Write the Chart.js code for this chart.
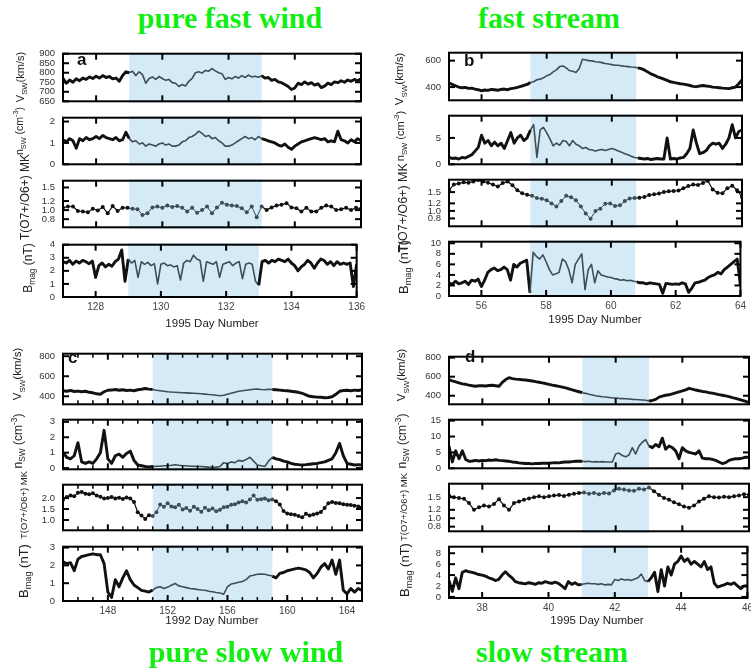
<!DOCTYPE html>
<html>
<head>
<meta charset="utf-8">
<script src="https://cdn.jsdelivr.net/npm/chart.js@4.4.1/dist/chart.umd.min.js"></script>
<style>
  body { margin: 0; background: #fff; width: 751px; height: 670px; position: relative; overflow: hidden; font-family: "Liberation Sans", Arial, sans-serif; }
  canvas { position: absolute; }
  .ttl { position: absolute; font: bold 30px "Liberation Serif", "Times New Roman", serif; color: #11ee11; white-space: nowrap; transform: translate(-50%, -50%); }
  .yl { position: absolute; color: #222; white-space: nowrap; line-height: 1; transform: translate(-50%, -50%) rotate(-90deg); }
  .yl sub, .yl sup { font-size: 70%; line-height: 0; }
  .xl { position: absolute; font-size: 11.5px; color: #222; white-space: nowrap; transform: translate(-50%, -50%); }
  .let { position: absolute; font: bold 17px "Liberation Sans", Arial, sans-serif; line-height: 1; color: #111; }
</style>
</head>
<body>
<script>
// ---- panel a : 1995 days 127-136, pure fast wind
const aStart = 127;
const aStep = 0.1;
const aStepT = 0.15;
const aShade = [129, 133];
const aXTicks = [128, 130, 132, 134, 136];
const aVTicks = [650, 700, 750, 800, 850, 900];
const aNTicks = [0, 1, 2];
const aTTicks = [0.8, 1.0, 1.2, 1.5];
const aBTicks = [0, 1, 2, 3, 4];
const aVsw = [770,745,762,750,768,758,772,765,778,770, 782,772,785,775,780,768,772,755,785,805,
  800,808,785,805,790,745,770,778,765,780, 770,760,765,748,745,728,738,730,755,770,
  800,805,798,812,808,822,810,800,795,765, 775,768,780,772,785,775,788,778,782,776,
  785,772,775,760,765,752,748,738,728,712, 720,745,738,752,740,748,735,742,722,730,
  745,738,752,748,758,750,762,755,765,758, 768];
const aNsw = [1.15,1.05,1.2,1.1,0.75,1.2,1.1,1.25,1.15,1.2, 1.3,1.2,1.35,1.25,1.2,1.15,1.25,1.1,1.15,1.5,
  1.2,1.05,1.1,0.95,1.0,0.85,0.95,0.9,0.85,0.95, 1.0,0.9,0.95,0.85,0.85,0.9,1.05,1.1,1.25,1.3,
  1.4,1.55,1.45,1.3,1.35,1.2,1.25,1.1,1.0,0.85, 0.85,0.9,1.0,1.1,1.2,1.3,1.2,1.25,1.15,1.3,
  1.2,1.15,1.1,1.05,1.0,0.9,0.85,0.95,0.8,0.7, 0.85,0.95,1.05,1.1,1.15,1.2,1.25,1.2,1.15,1.2,
  1.05,1.1,1.05,1.55,1.15,1.1,1.0,1.15,1.05,1.2, 1.1];
const aTox = [1.05,1.08,1.08,0.98,0.97,0.95,1.03,0.99,1.07,0.93, 1.09,0.98,1.05,1.05,1.03,1.02,0.89,0.93,1.06,1.08,
  1.05,1.10,1.07,1.09,1.05,0.97,1.05,0.94,1.00,1.08, 0.93,1.06,1.16,1.12,1.10,1.09,1.04,0.95,1.08,0.84,
  1.08,1.00,1.06,1.10,1.12,1.15,1.06,1.04,0.97,1.05, 0.97,0.97,1.05,1.10,1.08,1.00,1.02,1.05,1.00,1.05, 1.03];
const aBmag = [2.7,2.6,2.8,2.5,2.75,2.6,2.8,2.7,2.55,2.75, 1.5,2.4,2.6,2.3,2.5,2.35,2.7,2.9,3.6,1.2,
  2.9,2.6,2.8,1.5,2.7,2.5,2.65,2.4,2.55,1.0, 2.5,2.6,2.4,2.45,2.3,2.4,1.3,2.6,2.8,2.7,
  3.2,2.9,2.8,1.2,2.7,2.6,2.5,2.7,1.5,2.5, 2.6,2.7,2.4,2.6,2.7,1.4,2.5,2.6,2.5,1.2,
  0.9,2.7,2.8,2.6,2.8,2.7,2.9,2.8,2.7,2.9, 2.6,2.4,2.0,2.3,2.5,2.8,2.6,2.2,2.6,2.9,
  2.8,2.5,2.7,2.4,2.7,2.5,2.6,2.5,2.6,0.8, 2.5];

// ---- panel b : 1995 days 55-64, fast stream
const bStart = 55;
const bStep = 0.1;
const bStepT = 0.15;
const bShade = [57.5, 60.75];
const bXTicks = [56, 58, 60, 62, 64];
const bVTicks = [400, 600];
const bNTicks = [0, 5];
const bTTicks = [0.8, 1.0, 1.2, 1.5];
const bBTicks = [0, 2, 4, 6, 8, 10];
const bVsw = [430,420,410,400,395,398,390,392,385,380, 372,378,375,382,380,376,382,385,380,388,
  392,398,405,412,420,435,440,455,460,470, 485,495,515,530,555,560,545,525,520,510,
  540,610,605,600,598,592,590,585,578,575, 570,565,565,560,558,555,552,550,545,540,
  530,515,500,490,478,470,460,450,440,435, 430,425,422,418,412,405,403,408,412,408,
  405,400,398,395,392,390,388,395,400,425, 455];
const bNsw = [1.3,1.1,1.2,1.0,1.3,1.2,1.5,1.8,2.5,3.2, 5.5,4.0,4.5,3.5,4.2,3.5,4.0,3.0,4.5,6.0,
  4.0,5.0,5.5,4.5,5.0,6.5,7.5,1.3,6.5,7.0, 6.0,4.8,3.5,4.0,3.6,4.5,4.3,3.5,4.5,3.8,
  3.5,3.0,3.2,2.8,2.7,2.5,2.7,2.8,2.6,2.8, 3.0,2.8,2.5,2.3,2.0,1.8,1.5,1.3,1.2,1.1,
  1.0,1.1,0.9,1.0,1.1,1.0,1.0,5.0,1.0,1.1, 1.0,1.2,1.3,2.0,3.0,6.5,4.0,2.0,2.2,2.6,
  3.5,4.0,3.8,4.0,3.0,3.8,5.0,7.5,5.0,6.2, 6.5];
const bTox = [1.55,1.70,1.73,1.76,1.75,1.78,1.82,1.78,1.75,1.70, 1.65,1.74,1.78,1.68,1.55,1.47,1.43,1.40,1.34,1.32,
  1.28,1.20,1.12,1.26,1.40,1.36,1.28,1.12,0.93,0.79, 1.00,1.06,1.19,1.20,1.13,1.15,1.26,1.33,1.34,1.35,
  1.37,1.42,1.44,1.46,1.50,1.52,1.53,1.54,1.60,1.66, 1.70,1.69,1.74,1.80,1.57,1.48,1.47,1.60,1.67,1.55, 1.37];
const bBmag = [2.5,2.2,2.8,2.3,2.5,2.8,2.2,3.0,2.8,3.2, 1.8,3.0,4.5,5.0,5.3,4.8,5.0,5.5,5.0,3.0,
  6.0,5.5,6.2,6.5,6.8,0.6,8.3,7.5,7.0,7.8, 6.5,5.0,4.0,4.2,4.5,7.0,6.5,5.0,2.5,6.0,
  7.0,8.0,1.2,5.0,6.0,2.5,4.8,4.0,3.8,3.6, 3.5,3.3,3.2,3.0,3.1,2.9,3.0,2.8,2.7,2.5,
  2.5,2.3,2.5,2.4,2.3,2.2,0.5,2.4,2.3,2.2, 2.3,2.2,2.5,2.3,0.7,1.5,2.5,2.6,2.8,3.0,
  3.5,3.8,4.0,4.5,4.2,5.0,5.5,6.0,6.5,7.0, 2.0];

// ---- panel c : 1992 days 145-165, pure slow wind
const cStart = 145;
const cStep = 0.25;
const cShade = [151, 159];
const cXTicks = [148, 152, 156, 160, 164];
const cXMinor = [145,146,147,149,150,151,153,154,155,157,158,159,161,162,163,165];
const cVTicks = [400, 600, 800];
const cNTicks = [0, 1, 2, 3];
const cTTicks = [1.0, 1.5, 2.0];
const cBTicks = [0, 1, 2, 3];
const cVsw = [455,450,458,448,452,445,450,440,435,425, 420,445,460,462,468,460,465,458,462,455,
  465,470,478,472,468,460,455,450,445,442, 440,438,436,434,432,430,428,425,422,418,
  415,410,405,410,420,430,440,450,455,460, 465,470,472,468,465,470,468,465,462,458,
  455,450,445,440,430,415,400,395,392,390, 385,388,395,420,450,458,460,455,462,458, 465];
const cNsw = [1.0,0.7,0.6,0.8,1.65,0.4,0.3,0.4,0.3,0.6, 1.0,2.45,0.6,0.3,0.8,0.9,0.7,0.95,1.1,0.5,
  0.2,0.15,0.1,0.08,0.1,0.12,0.12,0.15,0.15,0.18, 0.22,0.18,0.15,0.15,0.12,0.12,0.1,0.1,0.08,0.06,
  0.05,0.06,0.1,0.35,0.3,0.4,0.35,0.5,0.45,0.55, 0.7,0.45,0.2,0.15,0.1,0.45,0.7,0.6,0.55,0.45,
  0.4,0.3,0.25,0.22,0.2,0.22,0.25,0.28,0.3,0.35, 0.4,0.5,0.6,1.0,1.6,0.8,0.3,0.25,0.2,0.22, 0.2];
const cTox = [1.92,2.05,2.12,2.08,2.24,2.28,2.20,2.18,2.22,2.12, 2.06,1.98,2.00,2.05,1.98,2.02,1.96,2.03,1.98,1.82,
  1.35,1.20,1.05,1.22,1.18,1.35,1.71,1.60,1.76,1.62, 1.58,1.70,1.48,1.55,1.42,1.60,1.50,1.38,1.56,1.45,
  1.52,1.40,1.47,1.58,1.60,1.70,1.72,1.80,1.85,1.80, 1.94,2.12,1.92,1.95,1.98,1.90,1.94,1.85,1.71,1.41,
  1.30,1.26,1.24,1.18,1.12,1.28,1.20,1.25,1.30,1.36, 1.55,1.76,1.82,1.78,1.76,1.72,1.70,1.68,1.65,1.62, 1.58];
const cBmag = [2.2,2.1,2.15,1.7,2.35,2.5,2.55,2.6,2.65,2.6, 2.6,2.1,0.5,0.2,1.2,0.8,1.3,1.7,1.2,0.9,
  0.75,0.6,0.55,0.5,0.62,0.75,0.8,0.7,0.78,0.88, 0.98,0.85,0.8,0.75,0.7,0.68,0.65,0.62,0.6,0.55,
  0.52,0.48,0.45,0.38,0.8,0.95,1.0,1.05,1.1,1.2, 1.4,1.45,1.5,1.52,1.5,1.45,1.4,1.3,1.55,1.6,
  1.7,1.75,1.8,1.85,1.8,1.75,1.6,1.3,1.55,1.9, 2.1,1.8,2.3,1.5,2.3,0.6,0.4,0.7,0.5,0.7, 0.6];

// ---- panel d : 1995 days 37-46, slow stream
const dStart = 37;
const dStep = 0.1;
const dStepT = 0.15;
const dShade = [41, 43];
const dXTicks = [38, 40, 42, 44, 46];
const dVTicks = [400, 600, 800];
const dNTicks = [0, 5, 10, 15];
const dTTicks = [0.8, 1.0, 1.2, 1.5];
const dBTicks = [0, 2, 4, 6, 8];
const dVsw = [570,555,545,535,525,520,512,505,500,505, 505,502,508,510,505,500,540,570,590,580,
  575,572,568,565,560,555,548,542,535,528, 520,512,505,498,490,482,472,462,452,442,
  432,425,415,408,400,395,390,386,382,378, 376,372,370,368,365,362,360,358,355,352,
  345,350,362,385,395,405,410,420,430,440, 450,462,478,470,460,452,445,440,432,428,
  420,412,405,398,390,380,372,362,352,340, 330];
const dNsw = [7.0,2.0,5.5,3.0,5.5,2.8,2.2,2.3,2.5,2.3, 2.5,2.4,2.6,2.5,2.7,2.5,2.4,2.3,2.2,2.0,
  1.9,1.7,1.6,1.5,1.5,1.4,1.5,1.5,1.6,1.6, 1.6,1.7,1.8,1.7,1.9,2.0,2.0,2.1,2.2,2.2,
  2.2,2.1,2.2,2.0,2.1,2.0,2.1,2.0,2.0,2.0, 4.5,4.8,4.0,3.6,4.2,6.5,4.5,7.0,8.2,9.0,
  7.0,6.5,7.5,6.8,9.5,6.0,7.0,6.5,5.5,3.0, 6.5,5.5,5.0,4.8,4.5,5.5,3.2,3.0,3.0,2.8,
  2.5,2.0,1.5,1.8,2.5,2.8,3.0,3.0,3.2,3.5, 3.5];
const dTox = [1.54,1.50,1.48,1.46,1.36,1.20,1.26,1.30,1.28,1.34, 1.45,1.30,1.20,1.36,1.40,1.44,1.47,1.50,1.52,1.50,
  1.52,1.54,1.55,1.53,1.56,1.58,1.60,1.61,1.58,1.60, 1.57,1.60,1.59,1.66,1.70,1.68,1.66,1.65,1.70,1.68,
  1.73,1.64,1.55,1.48,1.44,1.38,1.33,1.28,1.25,1.30, 1.40,1.46,1.52,1.50,1.49,1.51,1.50,1.52,1.54,1.57, 1.56];
const dBmag = [3.0,1.0,3.5,1.5,4.5,4.8,4.6,4.5,4.3,4.1, 4.0,3.8,3.5,3.3,3.0,3.2,4.0,4.6,4.0,3.5,
  2.8,2.6,2.5,2.4,2.6,2.5,2.3,2.6,2.5,2.8, 2.6,2.5,2.7,2.5,2.0,1.5,2.8,2.3,2.6,2.2,
  2.3,2.4,2.5,2.4,2.4,2.3,2.4,2.2,2.3,2.2, 3.2,3.0,3.3,3.1,3.2,3.0,3.3,3.5,4.2,3.0,
  2.8,3.5,4.5,1.0,5.0,2.0,5.5,4.0,6.0,6.5, 7.5,6.5,7.0,6.0,6.5,6.0,5.5,6.5,5.0,5.5,
  2.5,1.8,2.0,2.2,2.5,2.3,2.6,2.0,1.5,2.0, 2.0];

// ---- drawing
Chart.defaults.font.family = '"Liberation Sans", Arial, sans-serif';
Chart.defaults.font.size = 9.5;
Chart.defaults.color = '#333';

const YW = 50, PAD = 7, PR = 8, XH = 22;
const SHADE = '#d5eaf7';
const INK = '#111';
const GREY = '#3f4d54';

function inside(v, s) { return v >= s[0] && v <= s[1]; }

function deco(o) {
  return {
    id: 'deco',
    beforeDatasetsDraw(chart) {
      const { ctx, chartArea: a, scales: { x } } = chart;
      const x0 = x.getPixelForValue(o.shade[0]);
      const x1 = x.getPixelForValue(o.shade[1]);
      ctx.save();
      ctx.fillStyle = SHADE;
      ctx.fillRect(x0, a.top - o.extTop, x1 - x0, a.bottom - a.top + o.extTop + o.extBot);
      ctx.restore();
    },
    afterDatasetsDraw(chart) {
      const { ctx, chartArea: a, scales: { x, y } } = chart;
      const seg = (x0, y0, x1, y1) => { ctx.beginPath(); ctx.moveTo(x0, y0); ctx.lineTo(x1, y1); ctx.stroke(); };
      ctx.save();
      ctx.strokeStyle = '#000';
      ctx.lineWidth = 2;
      ctx.strokeRect(a.left, a.top, a.right - a.left, a.bottom - a.top);
      y.ticks.forEach(t => {
        const py = y.getPixelForValue(t.value);
        seg(a.left, py, a.left + 6, py);
        seg(a.right - 6, py, a.right, py);
      });
      x.ticks.forEach(t => {
        const px = x.getPixelForValue(t.value);
        seg(px, a.top, px, a.top + 6);
        seg(px, a.bottom - 6, px, a.bottom);
      });
      ctx.lineWidth = 1.5;
      (o.minor || []).forEach(v => {
        const px = x.getPixelForValue(v);
        seg(px, a.top, px, a.top + 4);
        seg(px, a.bottom - 4, px, a.bottom);
      });
      ctx.restore();
    }
  };
}

function plot(p, row, s) {
  const [top, bot] = p.rows[row];
  const last = row === 3;
  const w = p.right - p.left, h = bot - top;
  const cv = document.createElement('canvas');
  cv.width = YW + w + PR;
  cv.height = PAD + h + (last ? XH : PAD);
  cv.style.left = (p.left - YW) + 'px';
  cv.style.top = (top - PAD) + 'px';
  document.body.appendChild(cv);
  const pts = s.vals.map((v, i) => ({ x: +(p.start + i * s.step).toFixed(3), y: v }));
  const shade = p.shade;
  const wOut = s.dots ? 1.2 : 2.9, wIn = s.dots ? 1 : 1.6;
  new Chart(cv, {
    type: 'line',
    data: {
      datasets: [{
        data: pts,
        borderColor: INK,
        borderWidth: wOut,
        borderJoinStyle: 'round',
        pointRadius: s.dots ? 2 : 0,
        pointBorderWidth: 0,
        pointBackgroundColor: c => (c.parsed && inside(c.parsed.x, shade)) ? GREY : INK,
        tension: 0,
        segment: {
          borderColor: c => inside((c.p0.parsed.x + c.p1.parsed.x) / 2, shade) ? GREY : INK,
          borderWidth: c => inside((c.p0.parsed.x + c.p1.parsed.x) / 2, shade) ? wIn : wOut
        }
      }]
    },
    options: {
      responsive: false,
      animation: false,
      events: [],
      layout: { padding: { top: PAD, bottom: last ? 0 : PAD, left: 0, right: PR } },
      plugins: { legend: { display: false }, tooltip: { enabled: false } },
      scales: {
        x: {
          type: 'linear', min: p.xMin, max: p.xMax,
          afterBuildTicks: sc => { sc.ticks = p.xTicks.map(v => ({ value: v })); },
          afterFit: sc => { sc.height = last ? XH : 0; },
          ticks: { display: last, padding: 4, maxRotation: 0, autoSkip: false, font: { size: 10 }, color: '#444' },
          grid: { display: false, drawTicks: false },
          border: { display: false }
        },
        y: {
          min: s.min, max: s.max,
          afterBuildTicks: sc => { sc.ticks = s.ticks.map(v => ({ value: v })); },
          afterFit: sc => { sc.width = YW; },
          ticks: { padding: 8, autoSkip: false, color: '#333', callback: v => s.dec ? v.toFixed(1) : String(v) },
          grid: { display: false, drawTicks: false },
          border: { display: false }
        }
      }
    },
    plugins: [deco({ shade, minor: p.minor, extTop: row === 0 ? 0 : 1.5, extBot: last ? 0 : 1.5 })]
  });
}

const panels = [
  { start: aStart, left: 63, right: 361, rows: [[47, 108], [111, 171], [174, 234], [238, 297]],
    xMin: 127, xMax: 136, xTicks: aXTicks, shade: aShade,
    series: [
      { vals: aVsw, step: aStep, min: 650, max: 900, ticks: aVTicks },
      { vals: aNsw, step: aStep, min: 0, max: 2.18, ticks: aNTicks },
      { vals: aTox, step: aStepT, min: 0.62, max: 1.65, ticks: aTTicks, dec: true, dots: true },
      { vals: aBmag, step: aStep, min: 0, max: 4, ticks: aBTicks }
    ] },
  { start: bStart, left: 449, right: 742, rows: [[46, 107], [109, 171], [173, 233], [235, 296]],
    xMin: 55, xMax: 64, xTicks: bXTicks, shade: bShade,
    series: [
      { vals: bVsw, step: bStep, min: 300, max: 660, ticks: bVTicks },
      { vals: bNsw, step: bStep, min: 0, max: 9.2, ticks: bNTicks },
      { vals: bTox, step: bStepT, min: 0.59, max: 1.83, ticks: bTTicks, dec: true, dots: true },
      { vals: bBmag, step: bStep, min: 0, max: 10.3, ticks: bBTicks }
    ] },
  { start: cStart, left: 63, right: 362, rows: [[347, 411], [413, 476], [478, 537], [540, 601]],
    xMin: 145, xMax: 165, xTicks: cXTicks, minor: cXMinor, shade: cShade,
    series: [
      { vals: cVsw, step: cStep, min: 320, max: 825, ticks: cVTicks },
      { vals: cNsw, step: cStep, min: -0.08, max: 3.14, ticks: cNTicks },
      { vals: cTox, step: cStep, min: 0.53, max: 2.61, ticks: cTTicks, dec: true, dots: true },
      { vals: cBmag, step: cStep, min: 0, max: 3.05, ticks: cBTicks }
    ] },
  { start: dStart, left: 449, right: 749, rows: [[350, 411], [413, 475], [477, 538], [540, 598]],
    xMin: 37, xMax: 46, xTicks: dXTicks, shade: dShade,
    series: [
      { vals: dVsw, step: dStep, min: 310, max: 810, ticks: dVTicks },
      { vals: dNsw, step: dStep, min: 0, max: 15.3, ticks: dNTicks },
      { vals: dTox, step: dStepT, min: 0.69, max: 1.82, ticks: dTTicks, dec: true, dots: true },
      { vals: dBmag, step: dStep, min: -0.2, max: 9.2, ticks: dBTicks }
    ] }
];

panels.forEach(p => p.series.forEach((s, r) => plot(p, r, s)));

// ---- text
function put(cls, html, x, y, size) {
  const d = document.createElement('div');
  d.className = cls;
  d.innerHTML = html;
  d.style.left = x + 'px';
  d.style.top = y + 'px';
  if (size) d.style.fontSize = size + 'px';
  document.body.appendChild(d);
}
const vLab = 'V<sub>SW</sub>(km/s)';
const nLab = 'n<sub>SW</sub> (cm<sup>-3</sup>)';
const tLab = 'T(O7+/O6+) MK';
const bLab = 'B<sub>mag</sub> (nT)';

put('yl', vLab, 20, 77, 11);
put('yl', nLab, 19, 131, 10.5);
put('yl', tLab, 25, 197, 12);
put('yl', bLab, 28, 268, 12);

put('yl', vLab, 400, 79, 11.5);
put('yl', nLab, 400, 136, 11);
put('yl', tLab, 403, 208, 12.5);
put('yl', bLab, 403, 267, 13);

put('yl', vLab, 18, 374, 11.5);
put('yl', nLab, 18, 441, 12);
put('yl', tLab, 24, 505, 9.5);
put('yl', bLab, 23, 571, 13);

put('yl', vLab, 402, 375, 11.5);
put('yl', nLab, 402, 441, 12);
put('yl', tLab, 404, 507, 9.5);
put('yl', bLab, 404, 570, 13);

put('xl', '1995 Day Number', 212, 323);
put('xl', '1995 Day Number', 595, 319);
put('xl', '1992 Day Number', 212, 620);
put('xl', '1995 Day Number', 597, 620);

put('let', 'a', 77, 51);
put('let', 'b', 464, 52);
put('let', 'c', 68, 349);
put('let', 'd', 465, 348);

put('ttl', 'pure fast wind', 230, 18);
put('ttl', 'fast stream', 549, 18);
put('ttl', 'pure slow wind', 246, 652);
put('ttl', 'slow stream', 552, 652);
</script>
</body>
</html>
